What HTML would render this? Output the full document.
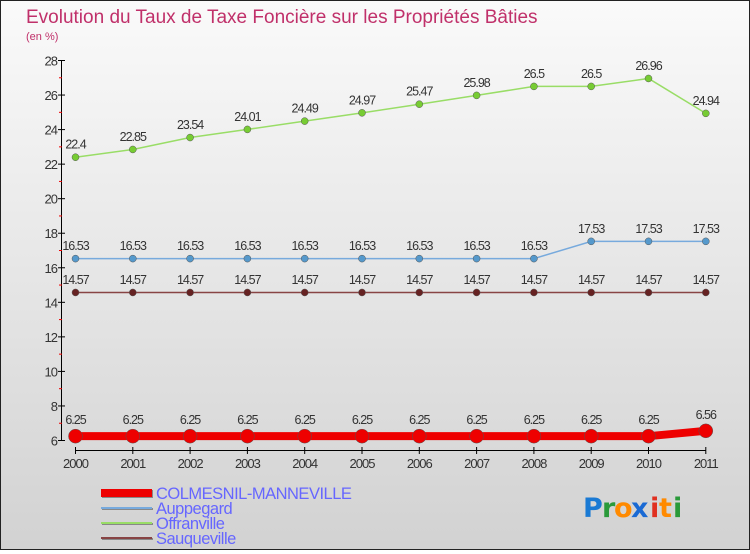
<!DOCTYPE html>
<html><head><meta charset="utf-8">
<style>
html,body{margin:0;padding:0;}
body{width:750px;height:550px;overflow:hidden;font-family:"Liberation Sans",sans-serif;}
#wrap{position:relative;width:748px;height:548px;border:1px solid #222;background:linear-gradient(#fafafa,#d2d2d2);}
</style></head><body>
<div id="wrap">
<svg id="svg" width="748" height="548" xmlns="http://www.w3.org/2000/svg">
<text x="25" y="22" font-size="19" fill="#c0306a">Evolution du Taux de Taxe Foncière sur les Propriétés Bâties</text>
<text x="25" y="39" font-size="11" fill="#c0306a">(en %)</text>
<g id="axes"></g>
<g id="series"></g>
<g id="legend"></g>
<g font-size="27" font-family="'DejaVu Sans',sans-serif" font-weight="bold">
<text x="582" y="516" fill="#1a7ad4">P</text><text x="601" y="516" fill="#2a9a3a">r</text><text x="613" y="516" fill="#ff8a00">o</text><text x="630" y="516" fill="#1a6ad4">x</text><text x="649" y="516" fill="#e03020">i</text><text x="658" y="516" fill="#ff8a00">t</text><text x="672" y="516" fill="#2a9a3a">i</text>
</g>
</svg>
</div>
<script>
const years=["2000","2001","2002","2003","2004","2005","2006","2007","2008","2009","2010","2011"];
const colmesnil=[6.25,6.25,6.25,6.25,6.25,6.25,6.25,6.25,6.25,6.25,6.25,6.56];
const auppegard=[16.53,16.53,16.53,16.53,16.53,16.53,16.53,16.53,16.53,17.53,17.53,17.53];
const offranville=[22.4,22.85,23.54,24.01,24.49,24.97,25.47,25.98,26.5,26.5,26.96,24.94];
const sauqueville=[14.57,14.57,14.57,14.57,14.57,14.57,14.57,14.57,14.57,14.57,14.57,14.57];
const yTicks=[6,8,10,12,14,16,18,20,22,24,26,28];
const NS="http://www.w3.org/2000/svg";
const X=i=>74.5+i*57.3;
const Y=v=>439.5-(v-6)*(380/22);
function mk(p,t,a){const e=document.createElementNS(NS,t);for(const k in a)e.setAttribute(k,a[k]);p.appendChild(e);return e;}
const axes=document.getElementById('axes');
mk(axes,'line',{x1:60.5,y1:Y(28),x2:60.5,y2:Y(6),stroke:'#000'});
mk(axes,'line',{x1:X(0),y1:449.5,x2:X(11),y2:449.5,stroke:'#000'});
yTicks.forEach(v=>{
 const y=Y(v);
 mk(axes,'line',{x1:57,x2:64,y1:y,y2:y,stroke:'#000'});
 if(v<28) mk(axes,'line',{x1:58,x2:61,y1:Y(v+1),y2:Y(v+1),stroke:'#e00'});
 const t=mk(axes,'text',{x:56,y:y+5,'font-size':13,'text-anchor':'end',fill:'#333','letter-spacing':'-1'});
 t.textContent=v;
 
 
});
years.forEach((yr,i)=>{
 mk(axes,'line',{x1:X(i),x2:X(i),y1:446,y2:453,stroke:'#000'});
 const t=mk(axes,'text',{x:X(i),y:467,'font-size':13,'text-anchor':'middle',fill:'#333','letter-spacing':'-1'});
 t.textContent=yr;
 
 
});
const ser=document.getElementById('series');
const defs=[
 {d:offranville,c:'#99dd66',pc:'#77cc33',w:1.5,r:3.5,n:'offranville'},
 {d:auppegard,c:'#77aadd',pc:'#5599cc',w:1.5,r:3.5,n:'auppegard'},
 {d:sauqueville,c:'#884444',pc:'#662222',w:1.5,r:3.5,n:'sauqueville'},
 {d:colmesnil,c:'#ee0000',pc:'#ee0000',w:8,r:7,n:'colmesnil'}
];
defs.forEach(s=>{
 const g=mk(ser,'g',{});
 
 
 const pl=mk(g,'polyline',{points:s.d.map((v,i)=>X(i)+','+Y(v)).join(' '),fill:'none',stroke:s.c,'stroke-width':s.w});
 
 s.d.forEach((v,i)=>{
  const c=mk(g,'circle',{cx:X(i),cy:Y(v),r:s.r,fill:s.pc,stroke:'#555','stroke-width':0.5});
  
  
  const t=mk(g,'text',{x:X(i),y:Y(v)-(s.r+5),'font-size':12.5,'text-anchor':'middle',fill:'#333','letter-spacing':'-1'});
  t.textContent=v;
  
  
 });
});
const leg=document.getElementById('legend');
const L=[['COLMESNIL-MANNEVILLE','#ee0000',8,492],['Auppegard','#77aadd',2,507],['Offranville','#99dd66',2,522],['Sauqueville','#884444',2,537]];
L.forEach(l=>{
 const g=mk(leg,'g',{});
 
 
 mk(g,'line',{x1:101,x2:152,y1:l[3]+1,y2:l[3]+1,stroke:'#888','stroke-width':l[2]});
 mk(g,'line',{x1:100,x2:151,y1:l[3],y2:l[3],stroke:l[1],'stroke-width':l[2]});
 const t=mk(g,'text',{x:155,y:l[3]+6,'font-size':16.5,fill:'#6666ff','letter-spacing':'-0.5'});
 t.textContent=l[0];
});
</script>
</body></html>
